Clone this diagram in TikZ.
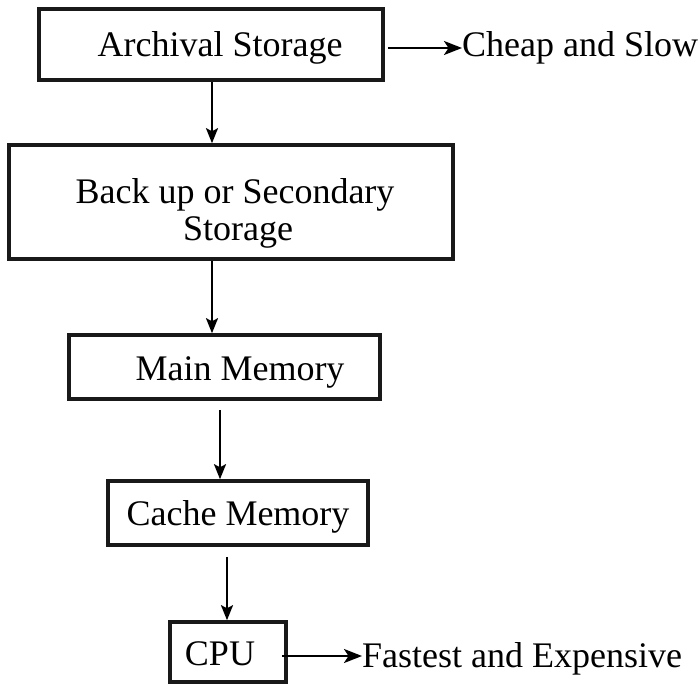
\documentclass[tikz,border=0pt]{standalone}
\usepackage{fontspec}
\setmainfont{Liberation Serif}
\usetikzlibrary{arrows.meta}
\begin{document}
\begin{tikzpicture}[x=1pt,y=-1pt,
  box/.style={draw=black!90, line width=3.6pt, rectangle, inner sep=0pt},
  lbl/.style={inner sep=0pt, anchor=base, font=\fontsize{36}{37}\selectfont},
  side/.style={inner sep=0pt, anchor=base west, font=\fontsize{36}{37}\selectfont},
  varr/.style={line width=2pt, -{Stealth[length=15pt,width=12pt,inset=3pt]}},
  harr/.style={line width=2.2pt, -{Stealth[length=18pt,width=14pt,inset=4.5pt]}}]
\useasboundingbox (0,0) rectangle (698,684);
% boxes
\node[box, minimum width=344pt, minimum height=71pt] (arch) at (211,44.5) {};
\node[box, minimum width=444pt, minimum height=114pt] (backup) at (231,202) {};
\node[box, minimum width=311pt, minimum height=64pt] (main) at (224.5,367) {};
\node[box, minimum width=260pt, minimum height=64pt] (cache) at (238,513) {};
\node[box, minimum width=116pt, minimum height=60pt] (cpu) at (228,652) {};
% texts
\node[lbl] (archtxt) at (220,57) {Archival Storage};
\node[lbl] (backtxt1) at (235,204) {Back up or Secondary};
\node[lbl] (backtxt2) at (238,241) {Storage};
\node[lbl] (maintxt) at (240,380) {Main Memory};
\node[lbl] (cachetxt) at (238,525) {Cache Memory};
\node[lbl] (cputxt) at (220,665) {CPU};
\node[side] (cheap) at (462,57) {Cheap and Slow};
\node[side] (fast) at (362,667) {Fastest and Expensive};
% connector guides
\coordinate (a1) at (212,0);
\coordinate (a3) at (220,0);
\coordinate (a4) at (227,0);
\coordinate (h1) at (0,48);
\coordinate (h2) at (0,656);
% vertical arrows
\draw[varr] (arch.south -| a1) -- (backup.north -| a1);
\draw[varr] (backup.south -| a1) -- (main.north -| a1);
\draw[varr] ([yshift=-9pt]main.south -| a3) -- (cache.north -| a3);
\draw[varr] ([yshift=-10pt]cache.south -| a4) -- (cpu.north -| a4);
% horizontal arrows
\draw[harr] ([xshift=3pt]arch.east |- h1) -- (cheap.west |- h1);
\draw[harr] ([xshift=-6pt]cpu.east |- h2) -- (fast.west |- h2);
\end{tikzpicture}
\end{document}
